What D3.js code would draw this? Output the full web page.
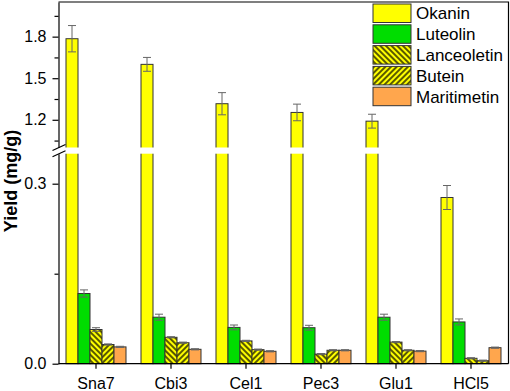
<!DOCTYPE html>
<html>
<head>
<meta charset="utf-8">
<script src="https://cdn.jsdelivr.net/npm/d3@7"></script>
<style>
  body { margin: 0; background: #fff; }
  text { font-family: Arial, "Liberation Sans", sans-serif; }
</style>
</head>
<body>
<svg id="chart" width="510" height="391"></svg>
<script>
// data
var categories = ["Sna7", "Cbi3", "Cel1", "Pec3", "Glu1", "HCl5"];
var seriesNames = ["Okanin", "Luteolin", "Lanceoletin", "Butein", "Maritimetin"];
var okanin = [1.785, 1.60, 1.316, 1.253, 1.19, 0.277];
var okaninErr = [0.095, 0.05, 0.08, 0.06, 0.05, 0.02];
var luteolin = [0.117, 0.0775, 0.0605, 0.060, 0.0775, 0.0696];
var luteolinErr = [0.006, 0.005, 0.004, 0.004, 0.005, 0.005];
var lanceoletin = [0.057, 0.044, 0.038, 0.016, 0.036, 0.009];
var lanceoletinErr = [0.003, 0.001, 0.001, 0.001, 0.001, 0.001];
var butein = [0.032, 0.035, 0.0234, 0.0224, 0.0224, 0.005];
var buteinErr = [0.001, 0.001, 0.001, 0.001, 0.001, 0.001];
var maritimetin = [0.028, 0.024, 0.0207, 0.0224, 0.021, 0.0267];
var maritimetinErr = [0.001, 0.001, 0.001, 0.001, 0.001, 0.001];
var lowTicks = [0, 0.3];
var lowMinor = [0.15];
var highTicks = [1.2, 1.5, 1.8];
var highMinor = [1.05, 1.35, 1.65, 1.95];

var values = [okanin, luteolin, lanceoletin, butein, maritimetin];
var errors = [okaninErr, luteolinErr, lanceoletinErr, buteinErr, maritimetinErr];
var fills = ["#ffff00", "#00dd00", "url(#hatchBack)", "url(#hatchFwd)", "#ffa64d"];

var svg = d3.select("#chart");

// plot box
var plotLeft = 58.5, plotRight = 508.5, plotTop = 2, plotBottom = 363.7;
var gapTop = 147.5, gapBottom = 153.7;

var x = d3.scaleBand().domain(categories).range([plotLeft, plotRight]).paddingInner(0.2).paddingOuter(0.1);
var xs = d3.scaleBand().domain(seriesNames).range([0, x.bandwidth()]);

// broken y axis: two linear pieces
var yLow = d3.scaleLinear().domain([0, 0.35]).range([plotBottom, gapBottom]);
var yHigh = d3.scaleLinear().domain([1.0, 2.05]).range([gapTop, plotTop]);
function yPos(v) {
  return v <= 0.35 ? yLow(v) : yHigh(v);
}

// hatch patterns
var defs = svg.append("defs");
function hatch(id, angle) {
  var p = defs
    .append("pattern")
    .attr("id", id)
    .attr("patternUnits", "userSpaceOnUse")
    .attr("width", 4)
    .attr("height", 4)
    .attr("patternTransform", "rotate(" + angle + ")");
  p.append("rect").attr("width", 4).attr("height", 4).attr("fill", "#ffff00");
  p.append("line")
    .attr("x1", 1).attr("y1", 0).attr("x2", 1).attr("y2", 4)
    .attr("stroke", "#000").attr("stroke-width", 1.3);
}
hatch("hatchBack", -45);
hatch("hatchFwd", 45);

// bars
var rows = [];
categories.forEach(function (c, i) {
  seriesNames.forEach(function (s, j) {
    rows.push({ cat: c, name: s, v: values[j][i], e: errors[j][i], fill: fills[j] });
  });
});

svg
  .append("g")
  .selectAll("rect")
  .data(rows)
  .enter()
  .append("rect")
  .attr("x", function (d) { return x(d.cat) + xs(d.name); })
  .attr("y", function (d) { return yPos(d.v); })
  .attr("width", xs.bandwidth())
  .attr("height", function (d) { return plotBottom - yPos(d.v); })
  .attr("fill", function (d) { return d.fill; })
  .attr("stroke", "#333")
  .attr("stroke-width", 1);

// error bars
var eb = svg.append("g").attr("stroke", "#666").attr("stroke-width", 1);
rows.forEach(function (d) {
  var cx = x(d.cat) + xs(d.name) + xs.bandwidth() / 2;
  var y1 = yPos(d.v + d.e), y2 = yPos(d.v - d.e);
  eb.append("line").attr("x1", cx).attr("x2", cx).attr("y1", y1).attr("y2", y2);
  eb.append("line").attr("x1", cx - 4).attr("x2", cx + 4).attr("y1", y1).attr("y2", y1);
  eb.append("line").attr("x1", cx - 4).attr("x2", cx + 4).attr("y1", y2).attr("y2", y2);
});

// white band of the break
svg
  .append("rect")
  .attr("x", plotLeft - 1)
  .attr("y", gapTop)
  .attr("width", plotRight - plotLeft)
  .attr("height", gapBottom - gapTop)
  .attr("fill", "#fff");

// y axes
function styleAxis(g) {
  g.selectAll(".tick text").style("font-size", "16px").attr("fill", "#000");
  g.selectAll("path, line").attr("stroke", "#000").attr("stroke-width", 1.2);
}
var lowAxis = svg
  .append("g")
  .attr("transform", "translate(" + plotLeft + ",0)")
  .call(d3.axisLeft(yLow).tickValues(lowTicks).tickFormat(d3.format(".1f")).tickSize(6).tickSizeOuter(0).tickPadding(6));
styleAxis(lowAxis);
var highAxis = svg
  .append("g")
  .attr("transform", "translate(" + plotLeft + ",0)")
  .call(d3.axisLeft(yHigh).tickValues(highTicks).tickFormat(d3.format(".1f")).tickSize(6).tickSizeOuter(0).tickPadding(6));
styleAxis(highAxis);

svg
  .append("g")
  .attr("transform", "translate(" + plotLeft + ",0)")
  .call(d3.axisLeft(yLow).tickValues(lowMinor).tickFormat("").tickSize(4).tickSizeOuter(0))
  .call(function (g) { g.select(".domain").remove(); styleAxis(g); });
svg
  .append("g")
  .attr("transform", "translate(" + plotLeft + ",0)")
  .call(d3.axisLeft(yHigh).tickValues(highMinor).tickFormat("").tickSize(4).tickSizeOuter(0))
  .call(function (g) { g.select(".domain").remove(); styleAxis(g); });

// break marks
svg
  .append("g")
  .attr("stroke", "#000")
  .attr("stroke-width", 1.2)
  .selectAll("line")
  .data([gapTop, gapBottom])
  .enter()
  .append("line")
  .attr("x1", plotLeft - 6)
  .attr("x2", plotLeft + 7)
  .attr("y1", function (d) { return d + 3; })
  .attr("y2", function (d) { return d - 3; });

// x axis
var xAxis = svg
  .append("g")
  .attr("transform", "translate(0," + plotBottom + ")")
  .call(d3.axisBottom(x).tickSize(5).tickSizeOuter(0).tickPadding(9));
xAxis.select(".domain").attr("d", "M" + plotLeft + ",0H" + plotRight);
styleAxis(xAxis);

// top and right frame
svg
  .append("path")
  .attr("d", "M" + plotLeft + "," + plotTop + "H" + plotRight + "V" + plotBottom)
  .attr("fill", "none")
  .attr("stroke", "#000")
  .attr("stroke-width", 1.2);

// y label
svg
  .append("text")
  .attr("transform", "translate(17,181) rotate(-90)")
  .attr("text-anchor", "middle")
  .style("font-size", "18px")
  .style("font-weight", "bold")
  .text("Yield (mg/g)");

// legend
var legend = svg
  .append("g")
  .selectAll("g")
  .data(seriesNames)
  .enter()
  .append("g")
  .attr("transform", function (d, i) { return "translate(373," + (4 + i * 20.8) + ")"; });
legend
  .append("rect")
  .attr("width", 38)
  .attr("height", 18.5)
  .attr("fill", function (d, i) { return fills[i]; })
  .attr("stroke", "#333")
  .attr("stroke-width", 1);
legend
  .append("text")
  .attr("x", 43)
  .attr("y", 9.5)
  .attr("dy", "0.35em")
  .style("font-size", "17px")
  .text(function (d) { return d; });
</script>
</body>
</html>
